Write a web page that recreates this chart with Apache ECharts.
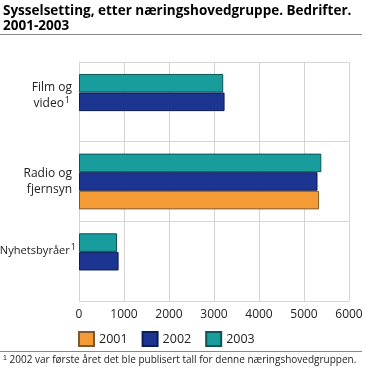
<!DOCTYPE html>
<html><head><meta charset="utf-8">
<script src="https://cdn.jsdelivr.net/npm/echarts@6/dist/echarts.min.js"></script>
<style>html,body{margin:0;padding:0;background:#fff}#c{width:366px;height:369px}</style>
</head><body><div id="c"></div>
<script>
var categories = ['Film og video', 'Radio og fjernsyn', 'Nyhetsbyråer'];
var s2001 = [null, 5335, null];
var s2002 = [3235, 5300, 880];
var s2003 = [3205, 5385, 845];
var xTicks = [0, 1000, 2000, 3000, 4000, 5000, 6000];
var FONT = 'Open Sans';
var chart = echarts.init(document.getElementById('c'));
var labelMap = {
  'Film og video': '{p|Film og}\nvideo{s2|1}\n{e1| }',
  'Radio og fjernsyn': '{p|Radio og}\n{p|fjernsyn}',
  'Nyhetsbyråer': '{n|Nyhetsbyråer}{sup|1}\n{e2| }'
};
function mk(name, data, color, border) {
  return {name: name, type: 'bar', data: data, barGap: '0%', barCategoryGap: '30%',
    itemStyle: {color: color, borderColor: border, borderWidth: 1}};
}
chart.setOption({
  animation: false,
  textStyle: {fontFamily: FONT},
  grid: {left: 79, right: 17, top: 62, bottom: 68, containLabel: false, outerBoundsMode: 'none'},
  xAxis: {type: 'value', min: xTicks[0], max: xTicks[xTicks.length - 1], interval: 1000,
    axisLine: {show: false}, axisTick: {show: false},
    axisLabel: {color: '#222', fontSize: 12, margin: 8, fontFamily: FONT,
      formatter: function (v) { return String(v); }},
    splitLine: {show: true, lineStyle: {color: '#d4d4d4', width: 1}}},
  yAxis: {type: 'category', data: categories, inverse: true,
    axisLine: {show: true, lineStyle: {color: '#d4d4d4'}}, axisTick: {show: false},
    splitLine: {show: true, lineStyle: {color: '#d4d4d4'}},
    axisLabel: {color: '#222', fontSize: 12, margin: 2, align: 'right', lineHeight: 16, fontFamily: FONT,
      formatter: function (v) { return labelMap[v] || v; },
      rich: {
        p: {fontSize: 12, color: '#222', fontFamily: FONT, lineHeight: 16, padding: [0, 5, 0, 0]},
        n: {fontSize: 11.1, color: '#222', fontFamily: FONT, lineHeight: 16},
        e1: {fontSize: 6, lineHeight: 12},
        e2: {fontSize: 6, lineHeight: 21},
        s2: {fontSize: 9, verticalAlign: 'top', padding: [0, 7, 8, 1], color: '#222', fontFamily: FONT},
        sup: {fontSize: 9, verticalAlign: 'top', padding: [0, 1, 8, 1], color: '#222', fontFamily: FONT}}}},
  legend: {left: 78, top: 331, padding: 0, itemWidth: 15, itemHeight: 14, itemGap: 14, icon: 'rect',
    textStyle: {fontSize: 12.5, color: '#222', fontFamily: FONT, padding: [0, 0, 0, 0]},
    data: ['2001', '2002', '2003']},
  series: [
    mk('2003', s2003, '#189c9c', '#0b5555'),
    mk('2002', s2002, '#1b3590', '#0d1d55'),
    mk('2001', s2001, '#f59b35', '#7a5a30')
  ],
  graphic: [
    {type: 'text', left: 3, top: 4, style: {text: 'Sysselsetting, etter næringshovedgruppe. Bedrifter.\n2001-2003',
      font: 'bold 13.5px "Open Sans"', fill: '#000', lineHeight: 15}},
    {type: 'line', shape: {x1: 0, y1: 34.5, x2: 362, y2: 34.5}, style: {stroke: '#888', lineWidth: 1}},
    {type: 'line', shape: {x1: 0, y1: 351.5, x2: 362, y2: 351.5}, style: {stroke: '#888', lineWidth: 1}},
    {type: 'text', left: 3, top: 355, style: {text: '{s|1} 2002 var første året det ble publisert tall for denne næringshovedgruppen.',
      font: '10px "Open Sans"', fill: '#222', rich: {s: {fontSize: 7, verticalAlign: 'top', fill: '#222'}}}}
  ]
});
</script></body></html>
